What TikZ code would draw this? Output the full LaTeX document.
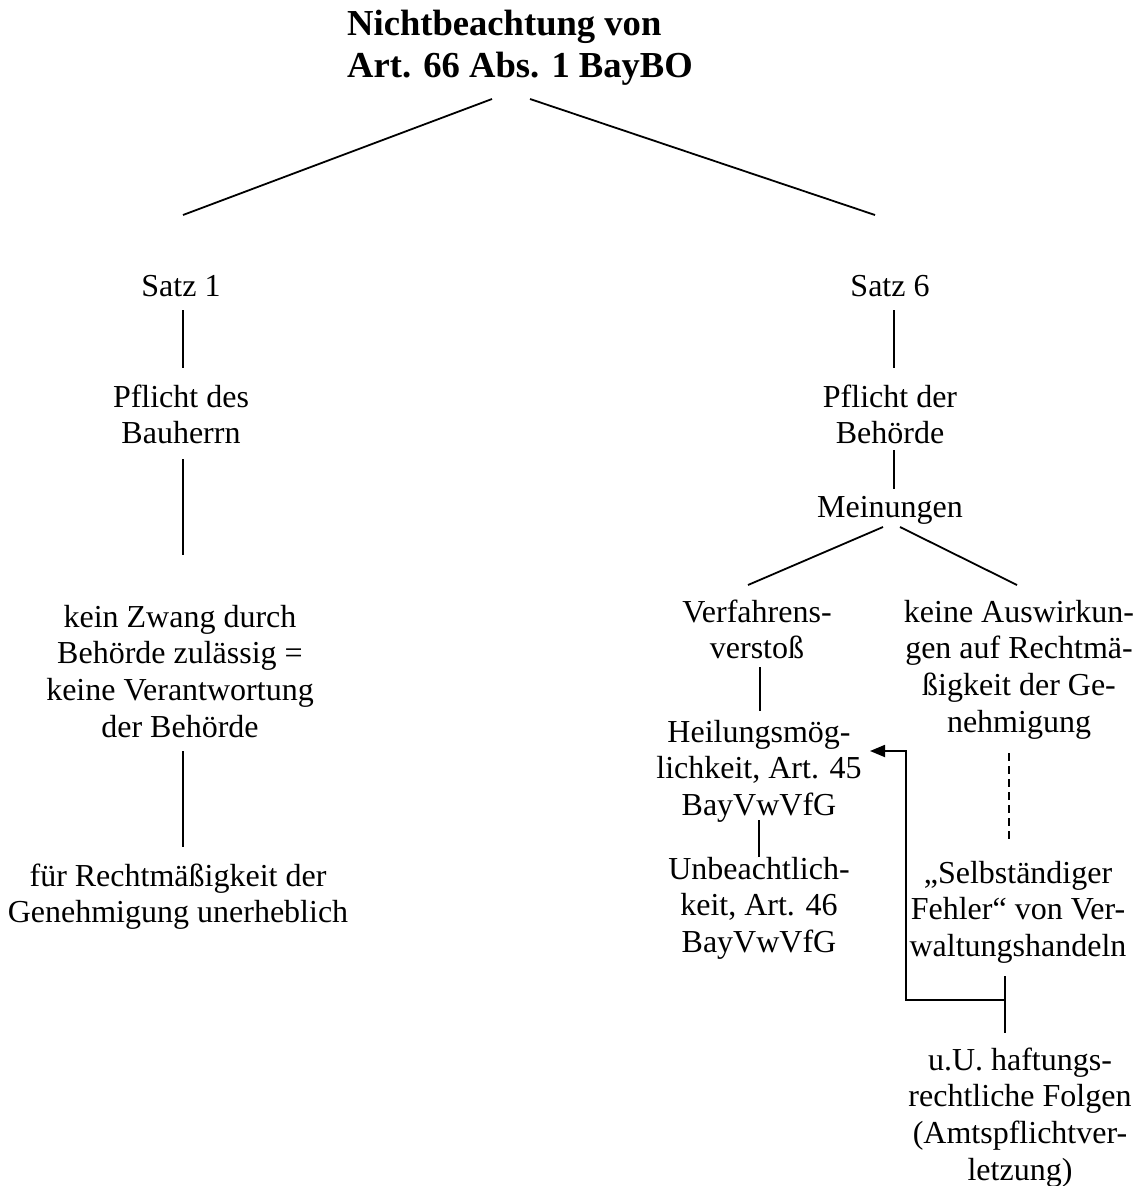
\documentclass[tikz,border=0pt]{standalone}
\usepackage{fontspec}
\setmainfont{Liberation Serif}
\usetikzlibrary{calc,arrows.meta}
\begin{document}
\begin{tikzpicture}[x=1pt,y=-1pt,
  txt/.style={anchor=base,align=center,inner sep=0pt,
    font=\fontsize{32pt}{36.8pt}\selectfont},
  ttl/.style={anchor=base west,align=left,inner sep=0pt,
    font=\fontsize{36.6pt}{42pt}\selectfont\bfseries},
  conn/.style={line width=1.8pt},
  dconn/.style={line width=1.8pt,dash pattern=on 8pt off 5pt},
  aconn/.style={line width=1.8pt,-{Triangle[length=15pt,width=12pt]}}]
\useasboundingbox (0,0) rectangle (1143,1186);

% root (placed at the baseline of its last line)
\node[ttl] (title) at (347,77) {Nichtbeachtung von\\Art. 66 Abs. 1 BayBO};

% left branch
\node[txt] (s1) at (181,296) {Satz 1};
\node[txt] (p1) at (181,443.8) {Pflicht des\\Bauherrn};
\node[txt] (zwang) at (180,737.4) {kein Zwang durch\\Behörde zulässig =\\keine Verantwortung\\der Behörde};
\node[txt] (recht) at (178,922.8) {für Rechtmäßigkeit der\\Genehmigung unerheblich};

% right branch
\node[txt] (s6) at (890,296) {Satz 6};
\node[txt] (p6) at (890,443.8) {Pflicht der\\Behörde};
\node[txt] (mein) at (890,517) {Meinungen};
\node[txt] (verf) at (757,658.8) {Verfahrens-\\verstoß};
\node[txt] (ausw) at (1019,732.4) {keine Auswirkun-\\gen auf Rechtmä-\\ßigkeit der Ge-\\nehmigung};
\node[txt] (heil) at (759,815.6) {Heilungsmög-\\lichkeit, Art. 45\\BayVwVfG};
\node[txt] (unb) at (759,952.6) {Unbeachtlich-\\keit, Art. 46\\BayVwVfG};
\node[txt] (selb) at (1018,956.6) {„Selbständiger\\Fehler“ von Ver-\\waltungshandeln};
\node[txt] (haft) at (1020,1180.4) {u.U. haftungs-\\rechtliche Folgen\\(Amtspflichtver-\\letzung)};

% connectors
\draw[conn] ($(title.base west)+(145,22)$) -- ($(s1.base)+(2,-81)$);
\draw[conn] ($(title.base west)+(183,22)$) -- ($(s6.base)+(-15,-81)$);
\draw[conn] ($(s1.base)+(2,14)$) -- ($(p1.base)+(2,-75.8)$);
\draw[conn] ($(p1.base)+(2,15.2)$) -- ($(zwang.base)+(3,-182.4)$);
\draw[conn] ($(zwang.base)+(3,13.6)$) -- ($(recht.base)+(5,-75.8)$);
\draw[conn] ($(s6.base)+(4,14)$) -- ($(p6.base)+(4,-75.8)$);
\draw[conn] ($(p6.base)+(4,6.2)$) -- ($(mein.base)+(4,-28)$);
\draw[conn] ($(mein.base)+(-7,10)$) -- ($(verf.base)+(-9,-73.8)$);
\draw[conn] ($(mein.base)+(10,10)$) -- ($(ausw.base)+(-2,-147.4)$);
\draw[conn] ($(verf.base)+(3,8.2)$) -- ($(heil.base)+(1,-104.6)$);
\draw[conn] ($(heil.base)+(0,4.4)$) -- ($(unb.base)+(0,-95.6)$);
\draw[dconn] ($(ausw.base)+(-10,20.6)$) -- ($(selb.base)+(-9,-113.6)$);
\draw[conn] ($(selb.base)+(-13,19.4)$) -- ($(haft.base)+(-15,-147.4)$);
\draw[aconn] ($(selb.base)+(-13,43.4)$) -| ($(heil.base)+(147,-64.6)$) -- ($(heil.base)+(111,-64.6)$);
\end{tikzpicture}
\end{document}
